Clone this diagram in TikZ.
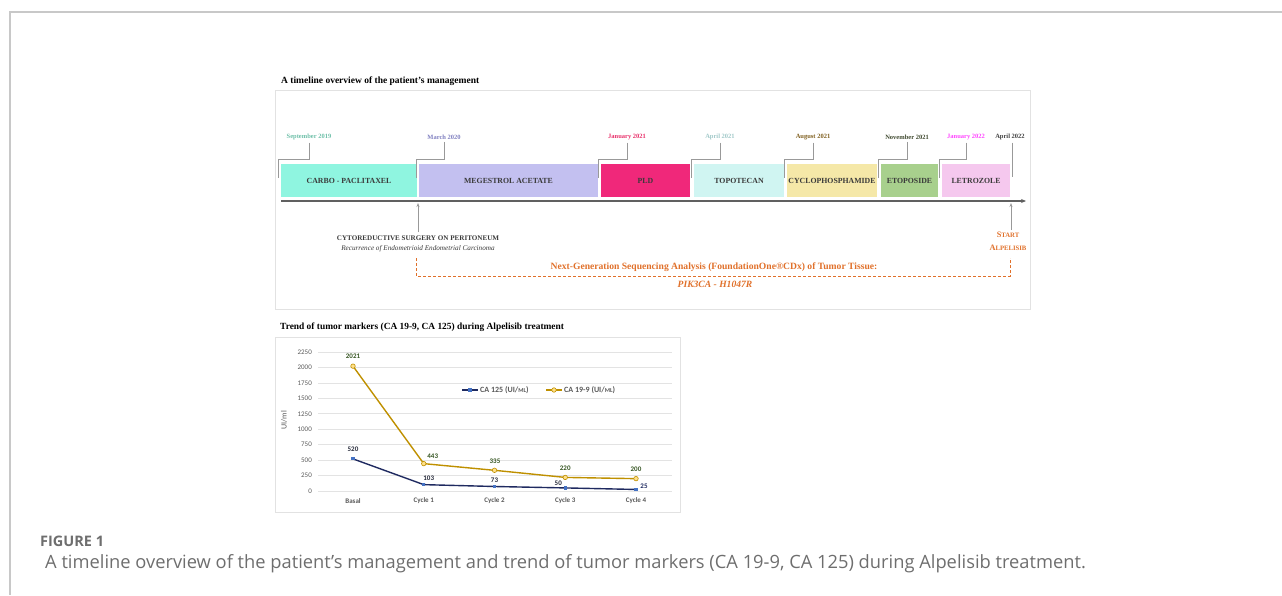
\documentclass[tikz,border=0pt]{standalone}
\usepackage{fontspec}
\setmainfont{Liberation Serif}
\newfontfamily\chartfont{Carlito}
\newfontfamily\capfont{Open Sans}
\usetikzlibrary{arrows.meta}
\definecolor{pagegray}{HTML}{C8C8C8}
\definecolor{boxgray}{HTML}{E2E2E2}
\definecolor{linegray}{HTML}{999999}
\definecolor{axisgray}{HTML}{606060}
\definecolor{phasetext}{HTML}{3A3A3A}
\definecolor{ngsorange}{HTML}{E0702A}
\definecolor{cCarbo}{HTML}{8FF5E0}
\definecolor{cMeg}{HTML}{C3C0F0}
\definecolor{cPld}{HTML}{F0287A}
\definecolor{cTopo}{HTML}{D0F5F2}
\definecolor{cCyclo}{HTML}{F5E8A8}
\definecolor{cEto}{HTML}{A8D08D}
\definecolor{cLetro}{HTML}{F5C8EE}
\definecolor{tSep}{HTML}{6DBFA8}
\definecolor{tMar}{HTML}{8080C0}
\definecolor{tJan}{HTML}{E8306A}
\definecolor{tApr}{HTML}{A0C8C8}
\definecolor{tAug}{HTML}{806020}
\definecolor{tNov}{HTML}{404A30}
\definecolor{tJanb}{HTML}{FF44FF}
\definecolor{tAprb}{HTML}{404040}
\definecolor{gridgray}{HTML}{E3E3E3}
\definecolor{ticktext}{HTML}{595959}
\definecolor{gold}{HTML}{BF9000}
\definecolor{goldfill}{HTML}{FFE08A}
\definecolor{navy}{HTML}{1F2A60}
\definecolor{markblue}{HTML}{4472C4}
\definecolor{labgreen}{HTML}{375623}
\definecolor{labnavy}{HTML}{262A3A}
\definecolor{captext}{HTML}{6E6E6E}
\newcommand{\fsz}[1]{\fontsize{#1}{#1}\selectfont}
\newcommand{\fakesc}[2]{{\fsz{8.3}#1}{\fsz{6.7}#2}}
\begin{document}
\begin{tikzpicture}[x=1pt,y=-1pt,
    phase/.style={minimum height=33pt, inner sep=0pt, font=\bfseries\fsz{7.8}, text=phasetext},
    date/.style={font=\bfseries\fsz{6.5}, inner xsep=1pt, inner ysep=2.5pt},
    bracket/.style={draw=linegray, line width=0.9pt},
    uparrow/.style={draw=linegray, line width=0.9pt, -{Stealth[length=4pt,width=3pt]}},
    grid/.style={draw=gridgray, line width=0.6pt},
    ytick/.style={anchor=east, font=\chartfont\fsz{7}, text=ticktext, inner sep=0pt},
    cat/.style={font=\chartfont\bfseries\fsz{7}, text=ticktext, inner sep=0pt},
    ca199/.style={draw=gold, line width=1.4pt},
    ca125/.style={draw=navy, line width=1.4pt},
    mk199/.style={circle, draw=gold, fill=goldfill, line width=0.6pt, minimum size=4.5pt, inner sep=0pt},
    mk125/.style={rectangle, fill=markblue, minimum size=3.2pt, inner sep=0pt},
    lab199/.style={font=\chartfont\bfseries\fsz{7}, text=labgreen, inner sep=0pt},
    lab125/.style={font=\chartfont\bfseries\fsz{7}, text=labnavy, inner sep=0pt},
    legtext/.style={anchor=west, font=\chartfont\bfseries\fsz{8}, text=ticktext, inner sep=0pt}]
  \useasboundingbox (0,0) rectangle (1282,595);
  % page frame
  \draw[pagegray, line width=1.2pt] (1282,12) -- (10,12) -- (10,595);

  % ---- timeline ----
  \node[anchor=west, font=\bfseries\fsz{9.5}, inner sep=0pt] (ttitle) at (281,81) {A timeline overview of the patient's management};
  \draw[boxgray, line width=0.8pt] (275,90) rectangle (1030,309);

  \node[phase, fill=cCarbo, minimum width=136pt] (carbo) at (349,180.5) {CARBO - PACLITAXEL};
  \node[phase, fill=cMeg, minimum width=179pt] (meg) at (508.5,180.5) {MEGESTROL ACETATE};
  \node[phase, fill=cPld, minimum width=89pt] (pld) at (645.5,180.5) {PLD};
  \node[phase, fill=cTopo, minimum width=90pt] (topo) at (739,180.5) {TOPOTECAN};
  \node[phase, fill=cCyclo, minimum width=90pt] (cyclo) at (832,180.5) {CYCLOPHOSPHAMIDE};
  \node[phase, fill=cEto, minimum width=57pt] (eto) at (909.5,180.5) {ETOPOSIDE};
  \node[phase, fill=cLetro, minimum width=68pt] (letro) at (976,180.5) {LETROZOLE};

  \node[date, text=tSep] (d1) at (309,137) {September 2019};
  \node[date, text=tMar] (d2) at (444,137) {March 2020};
  \node[date, text=tJan] (d3) at (627,137) {January 2021};
  \node[date, text=tApr] (d4) at (720,137) {April 2021};
  \node[date, text=tAug] (d5) at (813,137) {August 2021};
  \node[date, text=tNov] (d6) at (907,137) {November 2021};
  \node[date, text=tJanb] (d7) at (966,137) {January 2022};
  \node[date, text=tAprb] (d8) at (1010,137) {April 2022};

  \foreach \d/\b in {d1/carbo, d2/meg, d3/pld, d4/topo, d5/cyclo, d6/eto, d7/letro}
    \draw[bracket] (\d.south) -- ++(0,17) -| ([xshift=-2pt,yshift=-14pt]\b.north west);
  \draw[bracket] ([xshift=2pt]d8.south) -- ++(0,34);

  \coordinate (tstart) at (281,201);
  \coordinate (tend) at (1026,201);
  \draw[axisgray, line width=1.6pt, -{Stealth[length=5pt,width=4pt]}] (tstart) -- (tend);

  \node[font=\bfseries\fsz{7.1}, text=phasetext, inner sep=0pt] (surg) at (418,238) {CYTOREDUCTIVE SURGERY ON PERITONEUM};
  \node[font=\itshape\fsz{7.2}, text=phasetext, inner sep=0pt] (recur) at (418,249) {Recurrence of Endometrioid Endometrial Carcinoma};
  \coordinate (hit1) at (418,203);
  \draw[uparrow] ([yshift=3pt]surg.north) -- (hit1);

  \node[font=\bfseries, text=ngsorange, align=center, inner sep=0pt] (alp) at (1008,241.5) {\fakesc{S}{TART}\\[1pt]\fakesc{A}{LPELISIB}};
  \coordinate (hit2) at (1011,203);
  \draw[uparrow] ([xshift=3pt,yshift=2pt]alp.north) -- (hit2);

  \coordinate (ngsL) at (416,258);
  \coordinate (ngsR) at (1010,258);
  \draw[ngsorange, line width=0.8pt, dash pattern=on 3pt off 2pt] (ngsL) -- ++(0,18) -| (ngsR);
  \node[font=\bfseries\fsz{9.6}, text=ngsorange, inner sep=0pt] (ngs) at (714,267) {Next-Generation Sequencing Analysis (FoundationOne\textregistered CDx) of Tumor Tissue:};
  \node[font=\bfseries\itshape\fsz{9.6}, text=ngsorange, inner sep=0pt] (mut) at (715,284) {PIK3CA - H1047R};

  % ---- tumor markers chart ----
  \node[anchor=west, font=\bfseries\fsz{9.4}, inner sep=0pt] (ctitle) at (280,327) {Trend of tumor markers (CA 19-9, CA 125) during Alpelisib treatment};
  \draw[boxgray, line width=0.8pt] (275,337) rectangle (680,512);
  \foreach \v in {0,250,...,2250} {
    \draw[grid] (318,{491-\v*0.06178}) -- (672,{491-\v*0.06178});
    \node[ytick] (yt\v) at (312,{491-\v*0.06178}) {\v};
  }
  \node[rotate=90, font=\chartfont\fsz{8}, text=ticktext, inner sep=0pt] (yname) at (284,420) {UI/ml};
  \foreach \i/\c/\a/\b in {0/Basal/520/2021, 1/Cycle 1/103/443, 2/Cycle 2/73/335, 3/Cycle 3/50/220, 4/Cycle 4/25/200} {
    \coordinate (p\i) at ({353+70.75*\i},{491-\a*0.06178});
    \coordinate (q\i) at ({353+70.75*\i},{491-\b*0.06178});
    \node[cat] (c\i) at ({353+70.75*\i},501) {\c};
  }
  \draw[ca199] (q0) -- (q1) -- (q2) -- (q3) -- (q4);
  \draw[ca125] (p0) -- (p1) -- (p2) -- (p3) -- (p4);
  \foreach \i in {0,...,4} {
    \node[mk199] (mq\i) at (q\i) {};
    \node[mk125] (mp\i) at (p\i) {};
  }
  \node[lab199] (lq0) at ([shift={(0,-10)}]q0) {2021};
  \node[lab199] (lq1) at ([shift={(9,-7)}]q1) {443};
  \node[lab199] (lq2) at ([shift={(0.5,-9)}]q2) {335};
  \node[lab199] (lq3) at ([shift={(0,-9.5)}]q3) {220};
  \node[lab199] (lq4) at ([shift={(0,-9.5)}]q4) {200};
  \node[lab125] (lp0) at ([shift={(0,-10)}]p0) {520};
  \node[lab125] (lp1) at ([shift={(5,-6)}]p1) {103};
  \node[lab125] (lp2) at ([shift={(0,-6.5)}]p2) {73};
  \node[lab125] (lp3) at ([shift={(-7,-5)}]p3) {50};
  \node[lab125, text=navy] (lp4) at ([shift={(8,-3.5)}]p4) {25};
  % legend
  \coordinate (g1) at (462,390);
  \coordinate (g2) at (546,390);
  \draw[ca125] (g1) -- ++(16,0);
  \node[mk125] (gm1) at ([xshift=8pt]g1) {};
  \node[legtext] (leg125) at ([xshift=18pt]g1) {CA 125 (UI/{\fsz{6}ML})};
  \draw[ca199] (g2) -- ++(16,0);
  \node[mk199] (gm2) at ([xshift=8pt]g2) {};
  \node[legtext] (leg199) at ([xshift=18pt]g2) {CA 19-9 (UI/{\fsz{6}ML})};

  % ---- caption ----
  \node[anchor=west, font=\capfont\bfseries\fsz{14.5}, text=captext, inner sep=0pt] (fig) at (40,541) {FIGURE 1};
  \node[anchor=west, font=\capfont\fsz{18.3}, text=captext, inner sep=0pt] (cap) at (45,564) {A timeline overview of the patient’s management and trend of tumor markers (CA 19-9, CA 125) during Alpelisib treatment.};
\end{tikzpicture}
\end{document}
